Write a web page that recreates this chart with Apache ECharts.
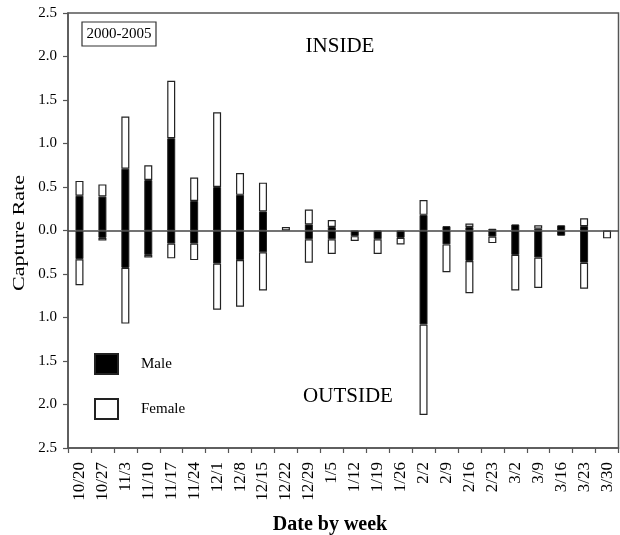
<!DOCTYPE html>
<html>
<head>
<meta charset="utf-8">
<script src="https://cdn.jsdelivr.net/npm/echarts@6/dist/echarts.min.js"></script>
<style>
html,body{margin:0;padding:0;background:#fff;}
#chart{width:620px;height:535px;}
</style>
</head>
<body>
<div id="chart"></div>
<script>
var categories = ['10/20','10/27','11/3','11/10','11/17','11/24','12/1','12/8','12/15','12/22','12/29','1/5','1/12','1/19','1/26','2/2','2/9','2/16','2/23','3/2','3/9','3/16','3/23','3/30'];
var maleInside    = [0.40,0.39,0.71,0.58,1.06,0.34,0.50,0.41,0.22,0,0.07,0.04,0,0,0,0.18,0.05,0.04,0.02,0.07,0.02,0.06,0.05,0];
var femaleInside  = [0.17,0.14,0.60,0.17,0.66,0.27,0.86,0.25,0.33,0.04,0.17,0.08,0,0,0,0.17,0,0.04,0,0,0.04,0,0.09,0];
var maleOutside   = [0.33,0.085,0.43,0.28,0.15,0.15,0.38,0.34,0.25,0,0.10,0.10,0.065,0.10,0.085,1.08,0.16,0.35,0.07,0.28,0.31,0.06,0.37,0];
var femaleOutside = [0.30,0.03,0.64,0.03,0.17,0.19,0.53,0.535,0.44,0,0.27,0.17,0.055,0.17,0.075,1.04,0.32,0.37,0.075,0.41,0.35,0,0.30,0.09];
var yTicks = [-2.5,-2.0,-1.5,-1.0,-0.5,0,0.5,1.0,1.5,2.0,2.5];

var FONT = 'Liberation Serif';
function pos(a){ return a.map(function(v){ return v === 0 ? '-' : v; }); }
function neg(a){ return a.map(function(v){ return v === 0 ? '-' : -v; }); }

var chart = echarts.init(document.getElementById('chart'), null, {renderer:'canvas'});
var maleStyle = {color:'#000', borderColor:'#222', borderWidth:1};
var femaleStyle = {color:'#fff', borderColor:'#222', borderWidth:1.2};

chart.setOption({
  backgroundColor:'#fff',
  animation:false,
  textStyle:{fontFamily:FONT, color:'#000'},
  grid:{left:68, right:1.5, top:13, bottom:87, show:true, borderColor:'#555', borderWidth:1.5, backgroundColor:'transparent'},
  legend:{
    orient:'vertical', left:94, top:353, padding:0, itemWidth:23, itemHeight:20, itemGap:23, icon:'rect',
    data:['Male','Female'],
    textStyle:{fontFamily:FONT, fontSize:15, color:'#000', padding:[0,0,0,18], lineHeight:20},
    selectedMode:false
  },
  xAxis:{
    type:'category', data:categories, boundaryGap:true,
    axisLine:{show:true, onZero:false, lineStyle:{color:'#555', width:1.5}},
    axisTick:{show:true, inside:false, length:5, lineStyle:{color:'#555', width:1.2}},
    axisLabel:{rotate:90, fontFamily:FONT, fontSize:17, color:'#000', margin:14, interval:0},
    splitLine:{show:false}
  },
  yAxis:{
    type:'value', min:yTicks[0], max:yTicks[yTicks.length-1], interval:0.5,
    axisLine:{show:true, lineStyle:{color:'#555', width:1.5}},
    axisTick:{show:true, inside:false, length:5, lineStyle:{color:'#555', width:1.2}},
    axisLabel:{fontFamily:FONT, fontSize:15, color:'#000', margin:11, formatter:function(v){ return Math.abs(v).toFixed(1); }},
    splitLine:{show:false}
  },
  series:[
    {name:'Male', type:'bar', stack:'s', barWidth:8, data:pos(maleInside), itemStyle:maleStyle,
     markLine:{silent:true, symbol:['none','none'], label:{show:false}, lineStyle:{color:'#444', width:1.5, type:'solid'}, data:[{yAxis:0}]}},
    {name:'Female', type:'bar', stack:'s', barWidth:8, data:pos(femaleInside), itemStyle:femaleStyle},
    {name:'Male', type:'bar', stack:'s', barWidth:8, data:neg(maleOutside), itemStyle:maleStyle},
    {name:'Female', type:'bar', stack:'s', barWidth:8, data:neg(femaleOutside), itemStyle:femaleStyle}
  ],
  graphic:[
    {type:'text', x:340, y:46, style:{text:'INSIDE', font:'21px "Liberation Serif"', fill:'#000', align:'center', verticalAlign:'middle'}},
    {type:'text', x:348, y:396, style:{text:'OUTSIDE', font:'21px "Liberation Serif"', fill:'#000', align:'center', verticalAlign:'middle'}},
    {type:'rect', shape:{x:82, y:22, width:74, height:24}, style:{fill:'#fff', stroke:'#333', lineWidth:1.2}},
    {type:'text', x:119, y:34, style:{text:'2000-2005', font:'15px "Liberation Serif"', fill:'#000', align:'center', verticalAlign:'middle'}},
    {type:'text', x:330, y:525, style:{text:'Date by week', font:'bold 20px "Liberation Serif"', fill:'#000', align:'center', verticalAlign:'middle'}},
    {type:'text', x:20, y:233, rotation:Math.PI/2, scaleX:1.3, style:{text:'Capture Rate', font:'17px "Liberation Serif"', fill:'#000', align:'center', verticalAlign:'middle'}}
  ]
});
</script>
</body>
</html>
